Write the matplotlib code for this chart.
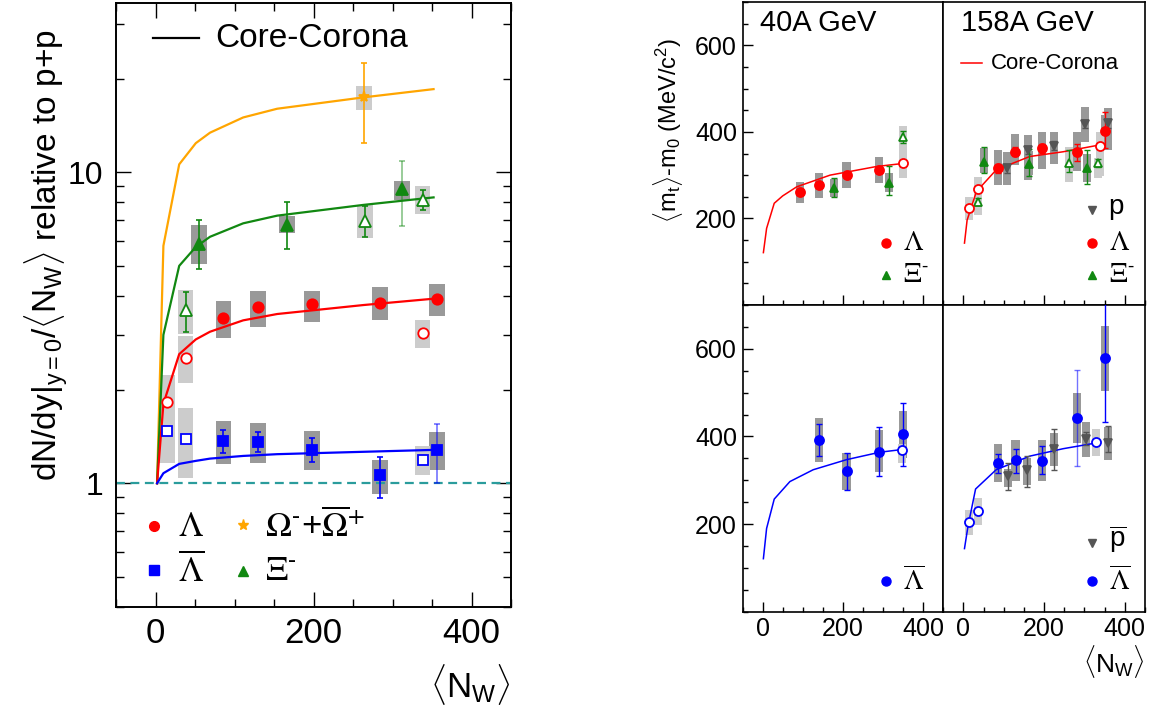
import numpy as np
import matplotlib.pyplot as plt
from matplotlib.ticker import MultipleLocator, FixedLocator, NullFormatter

plt.rcParams['font.family'] = 'Liberation Sans'
plt.rcParams['mathtext.fontset'] = 'custom'
plt.rcParams['mathtext.rm'] = 'Liberation Sans'
plt.rcParams['mathtext.it'] = 'Liberation Sans:italic'
plt.rcParams['mathtext.bf'] = 'Liberation Sans:bold'
plt.rcParams['mathtext.default'] = 'rm'

RED = '#ff0000'
BLUE = '#0000ff'
GREEN = '#118811'
ORANGE = '#ffa500'
GREY = '#555555'
DARKBOX = '#999999'
LIGHTBOX = '#cccccc'
HY = '\u2010'  # short superscript dash as in the original

# ---------------- left panel: yield per wounded nucleon relative to p+p
cc_x = [2, 10, 30, 51, 69, 111, 154, 263, 352]
cc_omega = [1, 5.8, 10.6, 12.4, 13.4, 15.0, 16.0, 17.4, 18.5]
cc_xi = [1, 3.0, 5.0, 5.75, 6.2, 6.85, 7.25, 7.85, 8.3]
cc_lam = [1, 1.8, 2.6, 2.9, 3.07, 3.34, 3.5, 3.74, 3.92]
cc_alam = [1, 1.077, 1.154, 1.18, 1.2, 1.224, 1.24, 1.262, 1.28]

om_x = [264]
om_y = [17.4]
om_lo = [12.4]
om_hi = [22.5]
om_slo = [15.8]
om_shi = [19.0]

xi_x = [55, 166, 312]
xi_y = [5.87, 6.77, 8.8]
xi_lo = [4.88, 5.66, 6.73]
xi_hi = [7.0, 8.0, 10.9]
xi_slo = [5.08, 6.38, 8.15]
xi_shi = [6.77, 7.22, 9.4]
xi_ea = [1, 1, 0.5]

xio_x = [38, 265, 338]
xio_y = [3.6, 6.98, 8.15]
xio_lo = [3.07, 6.2, 7.55]
xio_hi = [4.13, 7.8, 8.77]
xio_slo = [3.01, 6.16, 7.35]
xio_shi = [4.17, 7.85, 9.05]

lam_x = [86, 130, 198, 284, 356]
lam_y = [3.39, 3.68, 3.77, 3.81, 3.92]
lam_slo = [2.92, 3.18, 3.31, 3.36, 3.45]
lam_shi = [3.85, 4.15, 4.15, 4.28, 4.36]

lamo_x = [15, 38, 338]
lamo_y = [1.83, 2.53, 3.03]
lamo_slo = [1.45, 2.1, 2.72]
lamo_shi = [2.23, 2.97, 3.35]

alam_x = [86, 130, 198, 284, 356]
alam_y = [1.365, 1.36, 1.28, 1.06, 1.28]
alam_lo = [1.25, 1.26, 1.17, 0.897, 1.0]
alam_hi = [1.48, 1.46, 1.40, 1.215, 1.55]
alam_slo = [1.15, 1.16, 1.10, 0.92, 1.10]
alam_shi = [1.58, 1.56, 1.47, 1.19, 1.46]
alam_ea = [1, 1, 1, 1, 0.55]

alamo_x = [15, 38, 338]
alamo_y = [1.47, 1.39, 1.19]
alamo_slo = [1.16, 1.04, 1.065]
alamo_shi = [1.75, 1.75, 1.315]

# ---------------- right panels: <mt>-m0
c40_x = [2, 10, 29, 50, 85, 168, 284, 350]
c40_lam = [121, 177, 235, 252, 273, 300, 320, 327]
c158_x = [2.5, 9, 32, 81, 164, 247, 339, 350]
c158_lam = [143, 196, 262, 312, 343, 354, 370, 371]
c40_ab_x = [2, 10, 29, 68, 126, 209, 292, 346]
c40_alam = [121, 190, 257, 297, 324, 347, 364, 370]
c158_ab_x = [2.5, 11, 30, 81, 164, 247, 322, 330]
c158_alam = [144, 194, 280, 324, 355, 372, 384, 386]

# 40A GeV
l40_x = [93, 141, 209, 290]
l40_y = [260, 277, 300, 311]
l40_slo = [235, 248, 270, 281]
l40_shi = [285, 304, 330, 341]
l40o_x = [349]
l40o_y = [327]
l40o_slo = [293]
l40o_shi = [358]
x40_x = [178, 315]
x40_y = [271, 283]
x40_lo = [249, 254]
x40_hi = [294, 320]
x40_slo = [250, 262]
x40_shi = [292, 305]
x40o_x = [349]
x40o_y = [387]
x40o_lo = [374]
x40o_hi = [402]
x40o_slo = [358]
x40o_shi = [413]
al40_x = [141, 209, 290, 350]
al40_y = [392, 320, 365, 405]
al40_lo = [356, 278, 310, 333]
al40_hi = [428, 362, 422, 476]
al40_slo = [341, 278, 318, 351]
al40_shi = [442, 362, 414, 457]
al40o_x = [348]
al40o_y = [370]
al40o_slo = [340]
al40o_shi = [382]

# 158A GeV
l158_x = [85, 127, 195, 281, 351]
l158_y = [316, 354, 362, 354, 403]
l158_lo = [306, 344, 352, 332, 363]
l158_hi = [326, 364, 372, 371, 445]
l158_slo = [277, 323, 315, 309, 365]
l158_shi = [357, 395, 400, 400, 440]
l158o_x = [13, 36, 339]
l158o_y = [225, 267, 368]
l158o_slo = [196, 208, 297]
l158o_shi = [250, 296, 400]
x158_x = [52, 163, 307]
x158_y = [331, 326, 316]
x158_lo = [304, 299, 279]
x158_hi = [364, 361, 357]
x158_slo = [305, 300, 285]
x158_shi = [363, 355, 350]
x158o_x = [36, 262, 333]
x158o_y = [239, 329, 327]
x158o_lo = [230, 307, 318]
x158o_hi = [248, 358, 337]
x158o_slo = [208, 284, 293]
x158o_shi = [258, 364, 339]
p158_x = [109, 159, 224, 301, 359]
p158_y = [316, 358, 368, 418, 420]
p158_lo = [306, 348, 358, 408, 410]
p158_hi = [326, 368, 378, 428, 430]
p158_slo = [277, 289, 326, 377, 357]
p158_shi = [354, 393, 400, 457, 456]
al158_x = [85, 129, 195, 281, 351]
al158_y = [340, 346, 345, 443, 579]
al158_lo = [316, 316, 314, 333, 432]
al158_hi = [361, 372, 378, 552, 760]
al158_slo = [295, 299, 299, 384, 504]
al158_shi = [383, 391, 391, 500, 652]
al158_ea = [1, 1, 1, 0.55, 1]
al158o_x = [13, 36, 329]
al158o_y = [204, 230, 388]
al158o_slo = [174, 198, 356]
al158o_shi = [231, 259, 418]
ap158_x = [110, 158, 224, 304, 359]
ap158_y = [309, 324, 372, 395, 386]
ap158_lo = [277, 284, 324, 380, 364]
ap158_hi = [340, 355, 416, 410, 424]
ap158_slo = [284, 290, 332, 353, 346]
ap158_shi = [326, 351, 407, 433, 422]


def points(ax, x, y, slo, shi, color, marker, ms, box, lo=None, hi=None,
           hollow=False, bw=20, lw=1.2, ea=None):
    x = np.array(x, float)
    y = np.array(y, float)
    slo = np.array(slo, float)
    shi = np.array(shi, float)
    ax.bar(x, shi - slo, bottom=slo, width=bw, color=box, linewidth=0, zorder=1)
    if lo is not None:
        lo = np.array(lo, float)
        hi = np.array(hi, float)
        if ea is None:
            ea = [1] * len(x)
        for k in range(len(x)):
            ax.errorbar(x[k], y[k], yerr=[[y[k] - lo[k]], [hi[k] - y[k]]], fmt='none',
                        ecolor=color, elinewidth=lw, capsize=2.5, capthick=lw,
                        alpha=ea[k], zorder=3)
    ax.plot(x, y, ls='none', marker=marker, ms=ms,
            mfc='white' if hollow else color, mec=color, mew=1.3, zorder=4)


fig = plt.figure(figsize=(11.57, 7.13), dpi=100)
W, H = 1157.0, 713.0

# ================= left panel
ax0 = fig.add_axes([116 / W, 1 - 607 / H, 395 / W, 604 / H])
ax0.set_yscale('log')
ax0.set_xlim(-50, 450)
ax0.set_ylim(0.4, 35)
ax0.axhline(1, color='#2a9c9c', lw=1.6, ls=(0, (4, 2.5)), zorder=2)

ax0.plot(cc_x, cc_omega, color=ORANGE, lw=1.6, zorder=2)
ax0.plot(cc_x, cc_xi, color=GREEN, lw=1.6, zorder=2)
ax0.plot(cc_x, cc_lam, color=RED, lw=1.6, zorder=2)
ax0.plot(cc_x, cc_alam, color=BLUE, lw=1.6, zorder=2)

points(ax0, om_x, om_y, om_slo, om_shi, ORANGE, '*', 8, LIGHTBOX, om_lo, om_hi)
points(ax0, xi_x, xi_y, xi_slo, xi_shi, GREEN, '^', 8, DARKBOX, xi_lo, xi_hi, ea=xi_ea)
points(ax0, xio_x, xio_y, xio_slo, xio_shi, GREEN, '^', 8, LIGHTBOX, xio_lo, xio_hi, hollow=True)
points(ax0, lam_x, lam_y, lam_slo, lam_shi, RED, 'o', 7.5, DARKBOX)
points(ax0, lamo_x, lamo_y, lamo_slo, lamo_shi, RED, 'o', 7.5, LIGHTBOX, hollow=True)
points(ax0, alam_x, alam_y, alam_slo, alam_shi, BLUE, 's', 7, DARKBOX, alam_lo, alam_hi, ea=alam_ea)
points(ax0, alamo_x, alamo_y, alamo_slo, alamo_shi, BLUE, 's', 7, LIGHTBOX, hollow=True)

ax0.xaxis.set_major_locator(FixedLocator([0, 200, 400]))
ax0.xaxis.set_minor_locator(MultipleLocator(50))
ax0.yaxis.set_major_locator(FixedLocator([1, 10]))
ax0.yaxis.set_major_formatter(plt.FixedFormatter(['1', '10']))
ax0.yaxis.set_minor_locator(FixedLocator([0.4, 0.5, 0.6, 0.7, 0.8, 0.9, 2, 3, 4, 5, 6, 7, 8, 9, 20, 30]))
ax0.yaxis.set_minor_formatter(NullFormatter())
ax0.tick_params(which='both', direction='in', top=True, right=True, width=1)
ax0.tick_params(which='major', length=11)
ax0.tick_params(which='minor', length=6)
ax0.tick_params(axis='x', labelsize=25, pad=7)
ax0.tick_params(axis='y', labelsize=23, pad=9)
for s in ax0.spines.values():
    s.set_linewidth(1.4)

# legend of left panel
ax0.plot([0.094, 0.21], [0.942, 0.942], color='black', lw=1.6, transform=ax0.transAxes)
ax0.text(0.252, 0.942, 'Core-Corona', fontsize=24, va='center', transform=ax0.transAxes)
ax0.plot(0.096, 0.134, 'o', color=RED, ms=7, transform=ax0.transAxes)
ax0.plot(0.096, 0.061, 's', color=BLUE, ms=6.5, transform=ax0.transAxes)
ax0.plot(0.322, 0.136, '*', color=ORANGE, ms=8, transform=ax0.transAxes)
ax0.plot(0.322, 0.060, '^', color=GREEN, ms=7, transform=ax0.transAxes)
ax0.text(0.157, 0.134, r'$\Lambda$', fontsize=25, va='center', math_fontfamily='stix',
         transform=ax0.transAxes)
ax0.text(0.157, 0.061, r'$\overline{\Lambda}$', fontsize=25, va='center', math_fontfamily='stix',
         transform=ax0.transAxes)
ax0.text(0.378, 0.134, r'$\Omega^{' + HY + r'}$+$\overline{\Omega}^{+}$', fontsize=25,
         va='center', math_fontfamily='stix', transform=ax0.transAxes)
ax0.text(0.378, 0.061, r'$\Xi^{' + HY + '}$', fontsize=25, va='center', math_fontfamily='stix',
         transform=ax0.transAxes)

fig.text(0.040, 0.642, r'dN/dy$|_{y=0}$/$\langle$N$_{W}\rangle$ relative to p+p',
         rotation=90, fontsize=24, ha='center', va='center')
fig.text(511 / W, 1 - 662 / H, r'$\langle$N$_{W}\rangle$', fontsize=25, ha='right', va='top')

# ================= right panels
xr = [742.5, 943.3, 1145]
yr = [2, 305, 611.7]
axs = {}
for i in range(2):
    for j in range(2):
        axs[i, j] = fig.add_axes([xr[j] / W, 1 - yr[i + 1] / H, (xr[j + 1] - xr[j]) / W,
                                  (yr[i + 1] - yr[i]) / H])

for (i, j), ax in axs.items():
    ax.set_xlim(-50, 450)
    ax.set_ylim(0, 700)
    ax.xaxis.set_major_locator(FixedLocator([0, 200, 400]))
    ax.xaxis.set_minor_locator(MultipleLocator(50))
    ax.yaxis.set_major_locator(FixedLocator([200, 400, 600]))
    ax.yaxis.set_minor_locator(MultipleLocator(50))
    ax.tick_params(which='both', direction='in', top=False, right=False, left=(j == 0),
                   labelleft=(j == 0), labelbottom=(i == 1), width=1)
    ax.tick_params(which='major', length=7)
    ax.tick_params(which='minor', length=3.5)
    ax.tick_params(axis='x', labelsize=18, pad=4)
    ax.tick_params(axis='y', labelsize=18, pad=4)
    for s in ax.spines.values():
        s.set_linewidth(1.2)

ax = axs[0, 0]
ax.plot(c40_x, c40_lam, color=RED, lw=1.1, zorder=2)
points(ax, l40_x, l40_y, l40_slo, l40_shi, RED, 'o', 6.5, DARKBOX)
points(ax, l40o_x, l40o_y, l40o_slo, l40o_shi, RED, 'o', 6.5, LIGHTBOX, hollow=True)
points(ax, x40_x, x40_y, x40_slo, x40_shi, GREEN, '^', 6, DARKBOX, x40_lo, x40_hi, lw=1)
points(ax, x40o_x, x40o_y, x40o_slo, x40o_shi, GREEN, '^', 6, LIGHTBOX, x40o_lo, x40o_hi,
       hollow=True, lw=1)
ax.text(0.087, 0.93, '40A GeV', fontsize=21, va='center', transform=ax.transAxes)
ax.plot(0.715, 0.206, 'o', color=RED, ms=6.5, transform=ax.transAxes)
ax.plot(0.715, 0.098, '^', color=GREEN, ms=6, transform=ax.transAxes)
ax.text(0.80, 0.206, r'$\Lambda$', fontsize=20, va='center', math_fontfamily='stix',
        transform=ax.transAxes)
ax.text(0.80, 0.098, r'$\Xi^{' + HY + '}$', fontsize=20, va='center', math_fontfamily='stix',
        transform=ax.transAxes)

ax = axs[0, 1]
ax.plot(c158_x, c158_lam, color=RED, lw=1.1, zorder=2)
points(ax, p158_x, p158_y, p158_slo, p158_shi, GREY, 'v', 6, DARKBOX, p158_lo, p158_hi, lw=1)
points(ax, x158_x, x158_y, x158_slo, x158_shi, GREEN, '^', 6, DARKBOX, x158_lo, x158_hi, lw=1)
points(ax, x158o_x, x158o_y, x158o_slo, x158o_shi, GREEN, '^', 6, LIGHTBOX, x158o_lo, x158o_hi,
       hollow=True, lw=1)
points(ax, l158_x, l158_y, l158_slo, l158_shi, RED, 'o', 6.5, DARKBOX, l158_lo, l158_hi, lw=1)
points(ax, l158o_x, l158o_y, l158o_slo, l158o_shi, RED, 'o', 6.5, LIGHTBOX, hollow=True)
ax.text(0.086, 0.93, '158A GeV', fontsize=21, va='center', transform=ax.transAxes)
ax.plot([0.09, 0.19], [0.798, 0.798], color=RED, lw=1.1, transform=ax.transAxes)
ax.text(0.236, 0.798, 'Core-Corona', fontsize=16, va='center', transform=ax.transAxes)
ax.plot(0.735, 0.314, 'v', color=GREY, ms=6, transform=ax.transAxes)
ax.plot(0.735, 0.206, 'o', color=RED, ms=6.5, transform=ax.transAxes)
ax.plot(0.735, 0.098, '^', color=GREEN, ms=6, transform=ax.transAxes)
ax.text(0.82, 0.324, 'p', fontsize=20, va='center', transform=ax.transAxes)
ax.text(0.82, 0.206, r'$\Lambda$', fontsize=20, va='center', math_fontfamily='stix',
        transform=ax.transAxes)
ax.text(0.82, 0.098, r'$\Xi^{' + HY + '}$', fontsize=20, va='center', math_fontfamily='stix',
        transform=ax.transAxes)

ax = axs[1, 0]
ax.plot(c40_ab_x, c40_alam, color=BLUE, lw=1.1, zorder=2)
points(ax, al40_x, al40_y, al40_slo, al40_shi, BLUE, 'o', 6.5, DARKBOX, al40_lo, al40_hi, lw=1)
points(ax, al40o_x, al40o_y, al40o_slo, al40o_shi, BLUE, 'o', 6.5, LIGHTBOX, hollow=True)
ax.plot(0.715, 0.100, 'o', color=BLUE, ms=6.5, transform=ax.transAxes)
ax.text(0.80, 0.100, r'$\overline{\Lambda}$', fontsize=20, va='center', math_fontfamily='stix',
        transform=ax.transAxes)

ax = axs[1, 1]
ax.plot(c158_ab_x, c158_alam, color=BLUE, lw=1.1, zorder=2)
points(ax, ap158_x, ap158_y, ap158_slo, ap158_shi, GREY, 'v', 6, DARKBOX, ap158_lo, ap158_hi, lw=1)
points(ax, al158_x, al158_y, al158_slo, al158_shi, BLUE, 'o', 6.5, DARKBOX, al158_lo, al158_hi,
       lw=1, ea=al158_ea)
points(ax, al158o_x, al158o_y, al158o_slo, al158o_shi, BLUE, 'o', 6.5, LIGHTBOX, hollow=True)
ax.plot(0.735, 0.225, 'v', color=GREY, ms=6, transform=ax.transAxes)
ax.plot(0.735, 0.100, 'o', color=BLUE, ms=6.5, transform=ax.transAxes)
ax.text(0.82, 0.235, r'$\overline{\mathrm{p}}$', fontsize=20, va='center', transform=ax.transAxes)
ax.text(0.82, 0.100, r'$\overline{\Lambda}$', fontsize=20, va='center', math_fontfamily='stix',
        transform=ax.transAxes)

fig.text(668 / W, 1 - 130 / H, r'$\langle$m$_{t}\rangle$-m$_{0}$ (MeV/c$^{2}$)', rotation=90,
         fontsize=17, ha='center', va='center')
fig.text(1145 / W, 1 - 643 / H, r'$\langle$N$_{W}\rangle$', fontsize=19, ha='right', va='top')

fig.savefig('out.png', dpi=100)
